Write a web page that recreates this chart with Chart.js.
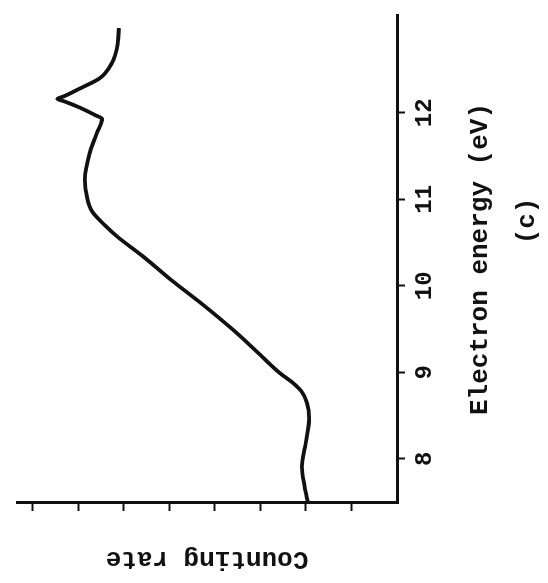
<!DOCTYPE html>
<html>
<head>
<meta charset="utf-8">
<script src="https://cdn.jsdelivr.net/npm/chart.js@4.4.1/dist/chart.umd.min.js"></script>
<style>
  html, body { margin: 0; padding: 0; background: #fff; overflow: hidden; }
  /* the plot is drawn upright, then the whole canvas is turned a quarter turn left */
  #wrap {
    position: absolute; left: 0; top: 0; width: 583px; height: 548px;
    transform-origin: 0 0;
    transform: translateY(583px) rotate(-90deg);
  }
</style>
</head>
<body>
<div id="wrap"><canvas id="spectrum" width="583" height="548"></canvas></div>
<script>
// Trace: electron energy (eV) against counting rate (arbitrary units)
let energy = [7.50, 7.68, 7.91, 8.14, 8.47, 8.65, 8.78, 8.88, 8.99, 9.24, 9.49, 9.78,
              10.05, 10.34, 10.57, 10.70, 10.86, 11.02, 11.23, 11.54, 11.77, 11.90,
              11.93, 11.97, 12.06, 12.13, 12.16, 12.19, 12.28, 12.40, 12.58, 12.76, 12.98];
let countRate = [1.96, 2.03, 2.09, 2.02, 1.93, 1.98, 2.10, 2.29, 2.57, 3.08, 3.60, 4.26,
                 4.92, 5.58, 6.15, 6.42, 6.70, 6.81, 6.86, 6.75, 6.59, 6.49,
                 6.48, 6.62, 6.97, 7.30, 7.46, 7.32, 6.97, 6.53, 6.26, 6.15, 6.11];

let energyTicks = [8, 9, 10, 11, 12];
let rateTicks = [1, 2, 3, 4, 5, 6, 7, 8];

let energyTitle = 'Electron energy (eV)';
let rateTitle = 'Counting rate';
let panelLabel = '(c)';

const ink = '#111';
const mono = "'Liberation Mono', 'Courier New', monospace";

Chart.defaults.font.family = mono;
Chart.defaults.color = ink;

// panel letter under the axis title
const panelLabelPlugin = {
    id: 'panelLabel',
    afterDraw(chart) {
        const ctx = chart.ctx;
        const xs = chart.scales.x;
        ctx.save();
        ctx.font = 'bold 26px ' + mono;
        ctx.fillStyle = ink;
        ctx.textAlign = 'center';
        ctx.textBaseline = 'middle';
        ctx.fillText(panelLabel, xs.getPixelForValue(10.75), 527);
        ctx.restore();
    }
};

let points = energy.map((e, i) => ({ x: e, y: countRate[i] }));

let chart = new Chart(document.getElementById('spectrum'), {
    type: 'line',
    data: {
        datasets: [{
            data: points,
            borderColor: ink,
            borderWidth: 3.8,
            pointRadius: 0,
            fill: false,
            cubicInterpolationMode: 'monotone'
        }]
    },
    options: {
        responsive: false,
        animation: false,
        layout: { padding: { top: 17, right: 15, left: 0, bottom: 0 } },
        plugins: {
            legend: { display: false },
            tooltip: { enabled: false }
        },
        scales: {
            x: {
                type: 'linear',
                min: 7.49,
                max: 13.13,
                afterBuildTicks: s => { s.ticks = energyTicks.map(v => ({ value: v })); },
                afterFit: s => { s.height = 151; },
                grid: { drawOnChartArea: false, drawTicks: true, tickLength: 8, tickWidth: 2, color: ink },
                border: { color: ink, width: 3 },
                ticks: {
                    autoSkip: false,
                    maxRotation: 0,
                    padding: 6,
                    font: { size: 24, weight: 'bold' },
                    color: ink
                },
                title: {
                    display: true,
                    text: energyTitle,
                    font: { size: 26, weight: 'bold' },
                    color: ink,
                    padding: { top: 0, bottom: 52 }
                }
            },
            y: {
                type: 'linear',
                min: 0,
                max: 8.35,
                afterBuildTicks: s => { s.ticks = rateTicks.map(v => ({ value: v })); },
                afterFit: s => { s.width = 80; },
                grid: { drawOnChartArea: false, drawTicks: true, tickLength: 8, tickWidth: 2, color: ink },
                border: { color: ink, width: 3 },
                ticks: { display: false },
                title: {
                    display: true,
                    text: rateTitle,
                    font: { size: 26, weight: 'bold' },
                    color: ink,
                    padding: { top: 9, bottom: 0 }
                }
            }
        }
    },
    plugins: [panelLabelPlugin]
});
</script>
</body>
</html>
